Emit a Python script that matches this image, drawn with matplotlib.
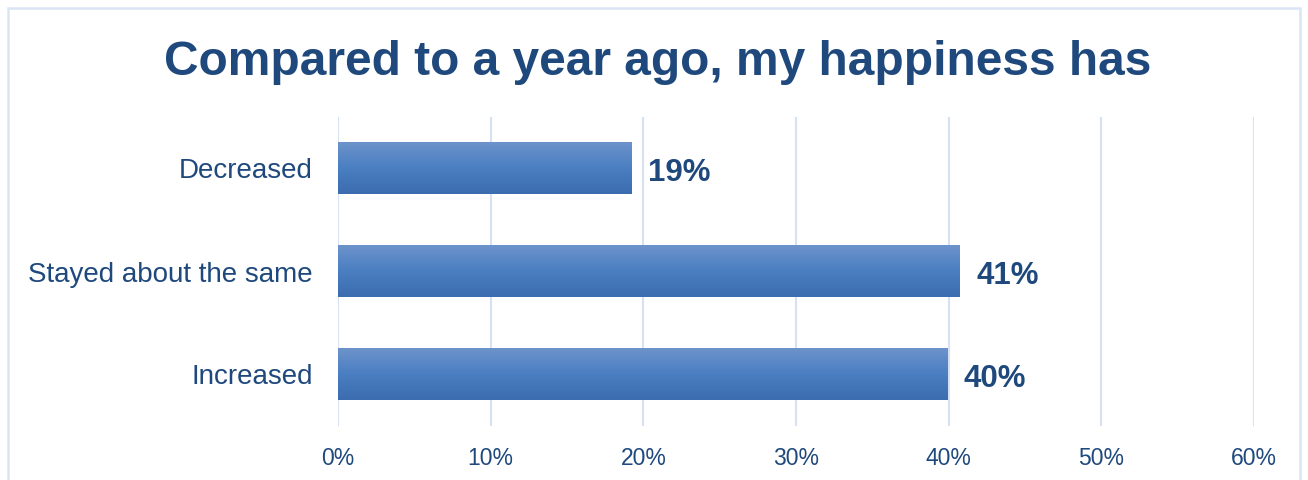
import numpy as np
import matplotlib.pyplot as plt
from matplotlib.colors import LinearSegmentedColormap
from matplotlib.patches import Rectangle

plt.rcParams['font.family'] = ['Liberation Sans', 'DejaVu Sans']

# survey answers, bottom to top
categories = ['Increased', 'Stayed about the same', 'Decreased']
shares = [39.9, 40.7, 19.2]
ticks = [0, 10, 20, 30, 40, 50, 60]
tick_labels = ['0%', '10%', '20%', '30%', '40%', '50%', '60%']
title = 'Compared to a year ago, my happiness has'

navy = '#1F497D'
grid_col = '#D5E2F3'

fig = plt.figure(figsize=(13.08, 4.8), dpi=100)
ax = fig.add_axes([0.2584, 0.1125, 0.7003, 0.64375])

# outer frame of the chart area
fig.patches.append(Rectangle((8 / 1308, -0.1), 1292 / 1308, 1.1 - 8 / 480,
                             transform=fig.transFigure, fill=False,
                             edgecolor='#D9E5F5', linewidth=1.8))

y = np.arange(len(categories))
bars = ax.barh(y, shares, height=0.5, color='none', zorder=2)

# vertical gradient, lighter on top
grad = LinearSegmentedColormap.from_list('bar', ['#3B6CAF', '#4A7FC2', '#6D93CB'])
g = np.linspace(0, 1, 256).reshape(-1, 1)
for b in bars:
    x0, y0 = b.get_x(), b.get_y()
    w, h = b.get_width(), b.get_height()
    ax.imshow(g, cmap=grad, origin='lower', aspect='auto',
              extent=[x0, x0 + w, y0, y0 + h], zorder=2)

for yi, v in zip(y, shares):
    ax.text(v + 1.1, yi - 0.04, '%.0f%%' % v, va='center', ha='left',
            fontsize=22.5, fontweight='bold', color=navy)

ax.set_xlim(0, 60)
ax.set_ylim(-0.5, 2.5)
ax.set_xticks(ticks)
ax.set_xticklabels(tick_labels, fontsize=16.5, color=navy)
ax.set_yticks(y)
ax.set_yticklabels(categories, fontsize=20, color=navy)
ax.tick_params(axis='x', length=0, pad=15)
ax.tick_params(axis='y', length=0, pad=18)
ax.grid(axis='x', color=grid_col, linewidth=1.5, zorder=0)
ax.set_axisbelow(True)
for s in ax.spines.values():
    s.set_visible(False)

fig.text(0.5027, 1 - 75 / 480, title, ha='center', va='baseline',
         fontsize=34.5, fontweight='bold', color=navy)

fig.savefig('out.png', dpi=100)
